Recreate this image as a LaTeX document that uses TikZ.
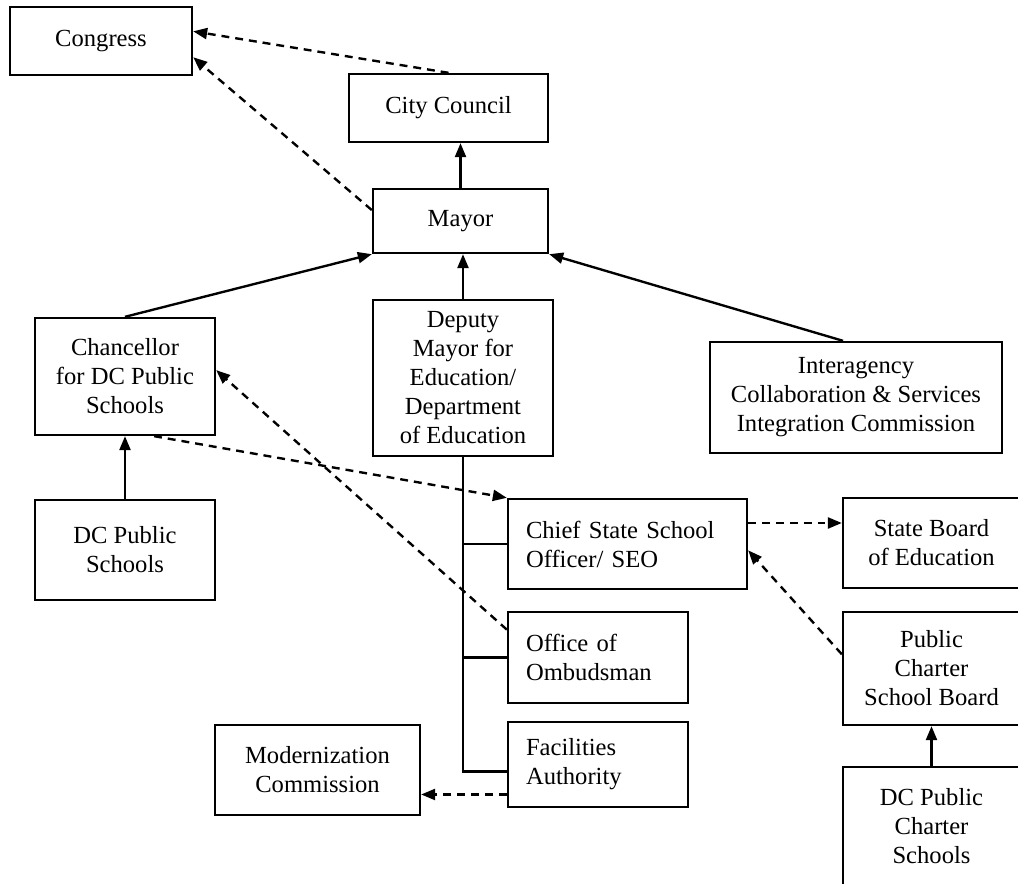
\documentclass[tikz,border=0pt]{standalone}
\usepackage{fontspec}
\setmainfont{Liberation Serif}
\usetikzlibrary{arrows.meta}
\begin{document}
\begin{tikzpicture}
        [x=0.02cm, y=-0.02cm, line width=1.35pt,
        >={Triangle[length=0.28cm, width=0.22cm]},
        dashed/.style={dash pattern=on 4.5pt off 3.4pt},
        box/.style={rectangle, draw, align=center, inner sep=2pt, font=\fontsize{14}{16.5}\selectfont},
        boxLeft/.style={rectangle, draw, align=left, inner xsep=0.36cm, font=\fontsize{14}{16.5}\selectfont}]
        \path[use as bounding box, clip] (0,0) rectangle (1018,884);
        \node[box, minimum width=3.64cm, minimum height=1.36cm] (cong) at (101,41) {Congress};
        \node[box, minimum width=3.98cm, minimum height=1.36cm] (city) at (448.5,108) {City Council};
        \node[box, minimum width=3.5cm, minimum height=1.28cm] (mayor) at (460.5,221) {Mayor};
        \node[box, minimum width=3.6cm, minimum height=2.34cm] (chanc) at (125,376.5) {Chancellor\\for DC Public\\Schools};
        \node[box, minimum width=3.6cm, minimum height=2cm] (dcps) at (125,550) {DC Public\\Schools};
        \node[box, minimum width=3.6cm, minimum height=3.12cm] (deputy) at (463,378) {Deputy\\Mayor for\\Education/\\Department\\of Education};
        \node[box, minimum width=5.84cm, minimum height=2.22cm] (inter) at (856,397.5) {Interagency\\Collaboration \& Services\\Integration Commission};
        \node[boxLeft, text width=4.06cm, minimum height=1.8cm] (csso) at (627.5,544) {Chief State School\\Officer/ SEO};
        \node[box, minimum width=3.54cm, minimum height=1.8cm] (sbe) at (931.5,543) {State Board\\of Education};
        \node[boxLeft, text width=2.88cm, minimum height=1.82cm] (omb) at (598,657.5) {Office of\\Ombudsman};
        \node[boxLeft, text width=2.88cm, minimum height=1.7cm] (fac) at (598,764.5) {Facilities\\Authority};
        \node[box, minimum width=3.54cm, minimum height=2.26cm] (pcsb) at (931.5,668.5) {Public\\Charter\\School Board};
        \node[box, minimum width=3.54cm, minimum height=2.36cm] (dcpcs) at (931.5,826) {DC Public\\Charter\\Schools};
        \node[box, minimum width=4.1cm, minimum height=1.8cm] (modern) at (317.5,770) {Modernization\\Commission};

        % reporting lines
        \draw[->] (mayor.north) -- (mayor.north |- city.south);
        \draw[->] (deputy.north) -- (deputy.north |- mayor.south);
        \draw[->] (chanc.north) -- (mayor.south west);
        \draw[->] ([xshift=-0.26cm]inter.north) -- (mayor.south east);
        \draw[->] (dcps.north) -- (chanc.south);
        \draw[->] (dcpcs.north) -- (pcsb.south);

        % deputy mayor branches
        \draw (deputy.south) |- ([yshift=-0.14cm]fac.west);
        \draw (deputy.south |- csso.west) -- (csso.west);
        \draw (deputy.south |- omb.west) -- (omb.west);

        % oversight lines
        \draw[dashed, ->] (city.north) -- (cong.6);
        \draw[dashed, ->] (mayor.173) -- (cong.-10);
        \draw[dashed, ->] (chanc.-64) -- (csso.north west);
        \draw[dashed, ->] (omb.163) -- (chanc.4);
        \draw[dashed, ->] ([yshift=0.42cm]csso.east) -- ([yshift=0.42cm]csso.east -| sbe.west);
        \draw[dashed, ->] (pcsb.171) -- (csso.-3);
        \draw[dashed, ->] ([yshift=-0.6cm]fac.west) -- ([yshift=-0.6cm]fac.west -| modern.east);
    \end{tikzpicture}
\end{document}
